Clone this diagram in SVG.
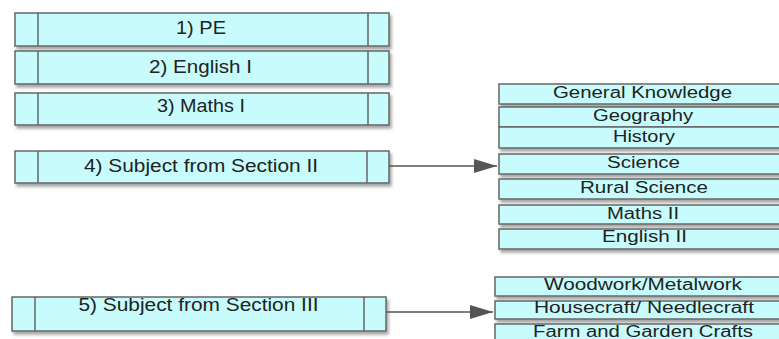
<svg xmlns="http://www.w3.org/2000/svg" width="779" height="339" viewBox="0 0 779 339">
<defs>
<filter id="sh" x="-5%" y="-30%" width="115%" height="180%">
<feDropShadow dx="2" dy="3" stdDeviation="1.5" flood-color="#000" flood-opacity="0.35"/>
</filter>
<marker id="ah" markerUnits="userSpaceOnUse" markerWidth="24" markerHeight="16" refX="23" refY="7" orient="auto">
<path d="M0,0 L23,7 L0,14 Z" fill="#555"/>
</marker>
<style>
.b{fill:#c8fcfc;stroke:#666;stroke-width:1.5;filter:url(#sh)}
.d{stroke:#666;stroke-width:1.5}
.t{font-family:"Liberation Sans",Arial,sans-serif;font-size:17.5px;fill:#222;text-anchor:middle}
.s{font-family:"Liberation Sans",Arial,sans-serif;font-size:16px;fill:#222;text-anchor:middle}
.c{stroke:#555;stroke-width:1.5;fill:none}
</style>
</defs>
<rect width="779" height="339" fill="#fff"/>
<g id="n1"><rect class="b" x="15" y="13" width="374" height="33"/><line class="d" x1="38" y1="13" x2="38" y2="46"/><line class="d" x1="368" y1="13" x2="368" y2="46"/><text class="t" x="201" y="34" textLength="50" lengthAdjust="spacingAndGlyphs">1) PE</text></g>
<g id="n2"><rect class="b" x="15" y="51" width="374" height="33"/><line class="d" x1="38" y1="51" x2="38" y2="84"/><line class="d" x1="368" y1="51" x2="368" y2="84"/><text class="t" x="200.5" y="73" textLength="103" lengthAdjust="spacingAndGlyphs">2) English I</text></g>
<g id="n3"><rect class="b" x="15" y="93" width="374" height="32"/><line class="d" x1="38" y1="93" x2="38" y2="125"/><line class="d" x1="368" y1="93" x2="368" y2="125"/><text class="t" x="201" y="112" textLength="88" lengthAdjust="spacingAndGlyphs">3) Maths I</text></g>
<g id="n4"><rect class="b" x="15" y="151" width="374" height="32"/><line class="d" x1="38" y1="151" x2="38" y2="183"/><line class="d" x1="367" y1="151" x2="367" y2="183"/><text class="t" x="201" y="172" textLength="234" lengthAdjust="spacingAndGlyphs">4) Subject from Section II</text></g>
<g id="n5"><rect class="b" x="12" y="297" width="374" height="34"/><line class="d" x1="35" y1="297" x2="35" y2="331"/><line class="d" x1="364" y1="297" x2="364" y2="331"/><text class="t" x="198.5" y="311" textLength="240" lengthAdjust="spacingAndGlyphs">5) Subject from Section III</text></g>
<g id="gk"><rect class="b" x="499" y="84" width="290" height="20"/><text class="s" x="642.5" y="98" textLength="179" lengthAdjust="spacingAndGlyphs">General Knowledge</text></g>
<g id="geo"><rect class="b" x="499" y="107" width="290" height="20"/><text class="s" x="643" y="121" textLength="100" lengthAdjust="spacingAndGlyphs">Geography</text></g>
<g id="his"><rect class="b" x="499" y="127" width="290" height="21"/><text class="s" x="644" y="142" textLength="62" lengthAdjust="spacingAndGlyphs">History</text></g>
<g id="sci"><rect class="b" x="499" y="154" width="290" height="20"/><text class="s" x="643.5" y="168" textLength="73" lengthAdjust="spacingAndGlyphs">Science</text></g>
<g id="rsci"><rect class="b" x="499" y="179" width="290" height="20"/><text class="s" x="644" y="193" textLength="128" lengthAdjust="spacingAndGlyphs">Rural Science</text></g>
<g id="m2"><rect class="b" x="499" y="205" width="290" height="19"/><text class="s" x="643" y="219" textLength="72" lengthAdjust="spacingAndGlyphs">Maths II</text></g>
<g id="e2"><rect class="b" x="499" y="229" width="290" height="20"/><text class="s" x="644.5" y="242" textLength="85" lengthAdjust="spacingAndGlyphs">English II</text></g>
<g id="ww"><rect class="b" x="495" y="277" width="296" height="19"/><text class="s" x="643" y="290" textLength="198" lengthAdjust="spacingAndGlyphs">Woodwork/Metalwork</text></g>
<g id="hc"><rect class="b" x="495" y="301" width="296" height="18"/><text class="s" x="644" y="313" textLength="220" lengthAdjust="spacingAndGlyphs">Housecraft/ Needlecraft</text></g>
<g id="fg"><rect class="b" x="495" y="324" width="296" height="20"/><text class="s" x="643" y="337" textLength="220" lengthAdjust="spacingAndGlyphs">Farm and Garden Crafts</text></g>
<g id="connectors">
<line class="c" x1="389" y1="166" x2="497" y2="166" marker-end="url(#ah)"/>
<line class="c" x1="386" y1="312" x2="493" y2="312" marker-end="url(#ah)"/>
</g>
</svg>
